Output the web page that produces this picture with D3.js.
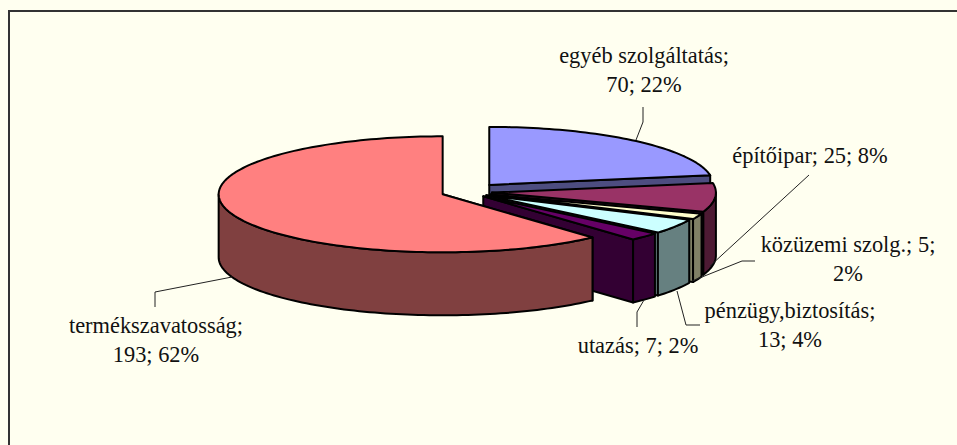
<!DOCTYPE html>
<html><head><meta charset="utf-8">
<script src="https://cdn.jsdelivr.net/npm/d3@7"></script>
<style>html,body{margin:0;padding:0;background:#fff}svg{display:block}text{font-family:"Liberation Serif",serif;font-size:22.4px;fill:#111;text-anchor:middle}</style>
</head><body><svg id="c" width="957" height="445"></svg>
<script>
const categories = ["egyéb szolgáltatás","építőipar","közüzemi szolg.","pénzügy,biztosítás","utazás","termékszavatosság"];
const values = [70,25,5,13,7,193];
const topColors = ["#9999FF","#993366","#FFFFCC","#CCFFFF","#660066","#FF8080"];
const wallColors = ["#4D4D80","#4D1A33","#808066","#668080","#330033","#804040"];
const explodes = [36,26,26,24,24,25];
const W=957,H=445,cx=466,cy=192,rx=224,ry=58,depth=63,tilt=ry/rx;
const svg=d3.select("#c");
svg.append("rect").attr("width",W).attr("height",H).attr("fill","#FFFFF0");
svg.append("path").attr("d","M9,445V11H957").attr("fill","none").attr("stroke","#333").attr("stroke-width",2);
const total=d3.sum(values);
const arcs=d3.pie().sort(null).startAngle(0).endAngle(2*Math.PI)(values);
const line=d3.line();
function apex(a,i){const m=(a.startAngle+a.endAngle)/2;return [cx+explodes[i]*Math.sin(m),cy-explodes[i]*Math.cos(m)*tilt];}
function pt(c,t,dy=0){return [c[0]+rx*Math.sin(t),c[1]-ry*Math.cos(t)+dy];}
function rim(c,t0,t1,dy=0){const n=Math.max(2,Math.ceil((t1-t0)*40));return d3.range(n+1).map(k=>pt(c,t0+(t1-t0)*k/n,dy));}
const g=svg.append("g").attr("stroke","#000").attr("stroke-width",2).attr("stroke-linejoin","round");
arcs.forEach((a,i)=>{
  const c=apex(a,i),s=g.append("g"),e=a.endAngle,b=a.startAngle;
  const radial=t=>{const p=pt(c,t);return [c,p,[p[0],p[1]+depth],[c[0],c[1]+depth]];};
  if(i<5) s.append("path").attr("d",line(radial(e))+"Z").attr("fill",wallColors[i]);
  else s.append("path").attr("d",line(radial(b))+"Z").attr("fill",wallColors[i]);
  const t0=Math.max(b,Math.PI/2),t1=Math.min(e,3*Math.PI/2);
  if(t1>t0){
    const up=rim(c,t0,t1),down=rim(c,t0,t1,depth).reverse();
    s.append("path").attr("d",line(up.concat(down))+"Z").attr("fill",wallColors[i]);
  }
  s.append("path").attr("d",line([c].concat(rim(c,b,e)))+"Z").attr("fill",topColors[i]);
});
const labelLines=[
 [d=>d.n+";",d=>d.v+"; "+d.p],
 [d=>d.n+"; "+d.v+"; "+d.p],
 [d=>d.n+"; "+d.v+";",d=>d.p],
 [d=>d.n+";",d=>d.v+"; "+d.p],
 [d=>d.n+"; "+d.v+"; "+d.p],
 [d=>d.n+";",d=>d.v+"; "+d.p]];
const labelPos=[[644,63],[810,163],[848,252],[790,318],[638,353],[156,333]];
const leaders=[
 [[643,107],[643,122],[636,140]],
 [[809,175],[710,266]],
 [[755,261],[742,261],[692,281]],
 [[700,325],[686,325],[677,291]],
 [[637,327],[637,312],[644,300]],
 [[155,307],[155,292],[232,277]]];
const leader=svg.append("g").attr("fill","none");
leaders.forEach(p=>{
  leader.append("path").attr("d",line(p)).attr("stroke","#222").attr("stroke-width",1);
});
const tg=svg.append("g");
categories.forEach((n,i)=>{
  const d={n,v:values[i],p:d3.format(".0%")(values[i]/total)};
  labelLines[i].forEach((f,k)=>{
    tg.append("text").attr("x",labelPos[i][0]).attr("y",labelPos[i][1]+k*29).text(f(d));
  });
});
</script></body></html>
